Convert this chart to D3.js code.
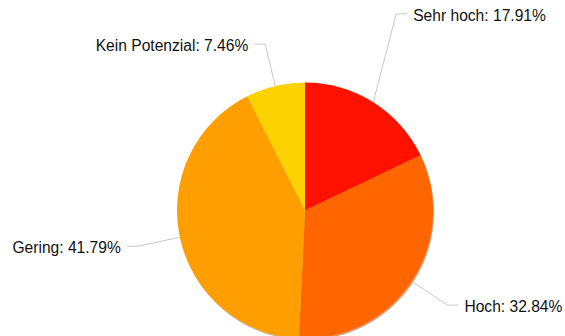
<!DOCTYPE html>
<html>
<head>
<meta charset="utf-8">
<script src="https://cdn.jsdelivr.net/npm/d3@7/dist/d3.min.js"></script>
<style>
  html, body { margin: 0; padding: 0; background: #fff; }
  svg { display: block; }
  text { font-family: "Liberation Sans", Arial, Helvetica, sans-serif; font-size: 15.6px; fill: #111; }
</style>
</head>
<body>
<svg id="chart" width="565" height="336"></svg>
<script>
// Anteil je Potenzialstufe (in %)
const categories = ["Sehr hoch", "Hoch", "Gering", "Kein Potenzial"];
const shares = [17.91, 32.84, 41.79, 7.46];
const colors = ["#ff1100", "#ff6600", "#ff9e00", "#fcd200"];

const width = 565, height = 336;
const cx = 305, cy = 210.5, radius = 128;
const bendRadius = 171;     // where the connector turns horizontal
const armLength = 11;       // horizontal part of the connector
const textGap = 6;
// vertical nudges for labels that would otherwise crowd the top edge
const labelShiftY = [-52, 0, 0, 0];

const svg = d3.select("#chart");
const data = categories.map((c, i) => ({ name: c, value: shares[i], color: colors[i], shift: labelShiftY[i] }));

const pie = d3.pie().value(d => d.value).sort(null);
const arcs = pie(data);
const arc = d3.arc().innerRadius(0).outerRadius(radius);

const g = svg.append("g").attr("transform", `translate(${cx},${cy})`);

// soft drop shadow beneath the slices
g.append("g").attr("transform", "translate(1,1.6)")
  .selectAll("path").data(arcs).join("path")
  .attr("d", arc)
  .attr("fill", d => d3.color(d.data.color).darker(0.9))
  .attr("opacity", 0.55);

g.append("g").selectAll("path").data(arcs).join("path")
  .attr("d", arc)
  .attr("fill", d => d.data.color);

// connectors and labels
const labels = svg.append("g");
arcs.forEach(a => {
  const mid = (a.startAngle + a.endAngle) / 2;
  const sx = Math.sin(mid), sy = -Math.cos(mid);
  const x0 = cx + radius * sx, y0 = cy + radius * sy;
  const x1 = cx + bendRadius * sx, y1 = cy + bendRadius * sy + a.data.shift;
  const right = sx >= 0;
  const x2 = x1 + (right ? armLength : -armLength);
  labels.append("path")
    .attr("d", d3.line()([[x0, y0], [x1, y1], [x2, y1]]))
    .attr("fill", "none")
    .attr("stroke", "#c8c8c8")
    .attr("stroke-width", 1);
  labels.append("text")
    .attr("x", x2 + (right ? textGap : -textGap))
    .attr("y", y1 + 7)
    .attr("text-anchor", right ? "start" : "end")
    .text(`${a.data.name}: ${a.data.value.toFixed(2)}%`);
});
</script>
</body>
</html>
